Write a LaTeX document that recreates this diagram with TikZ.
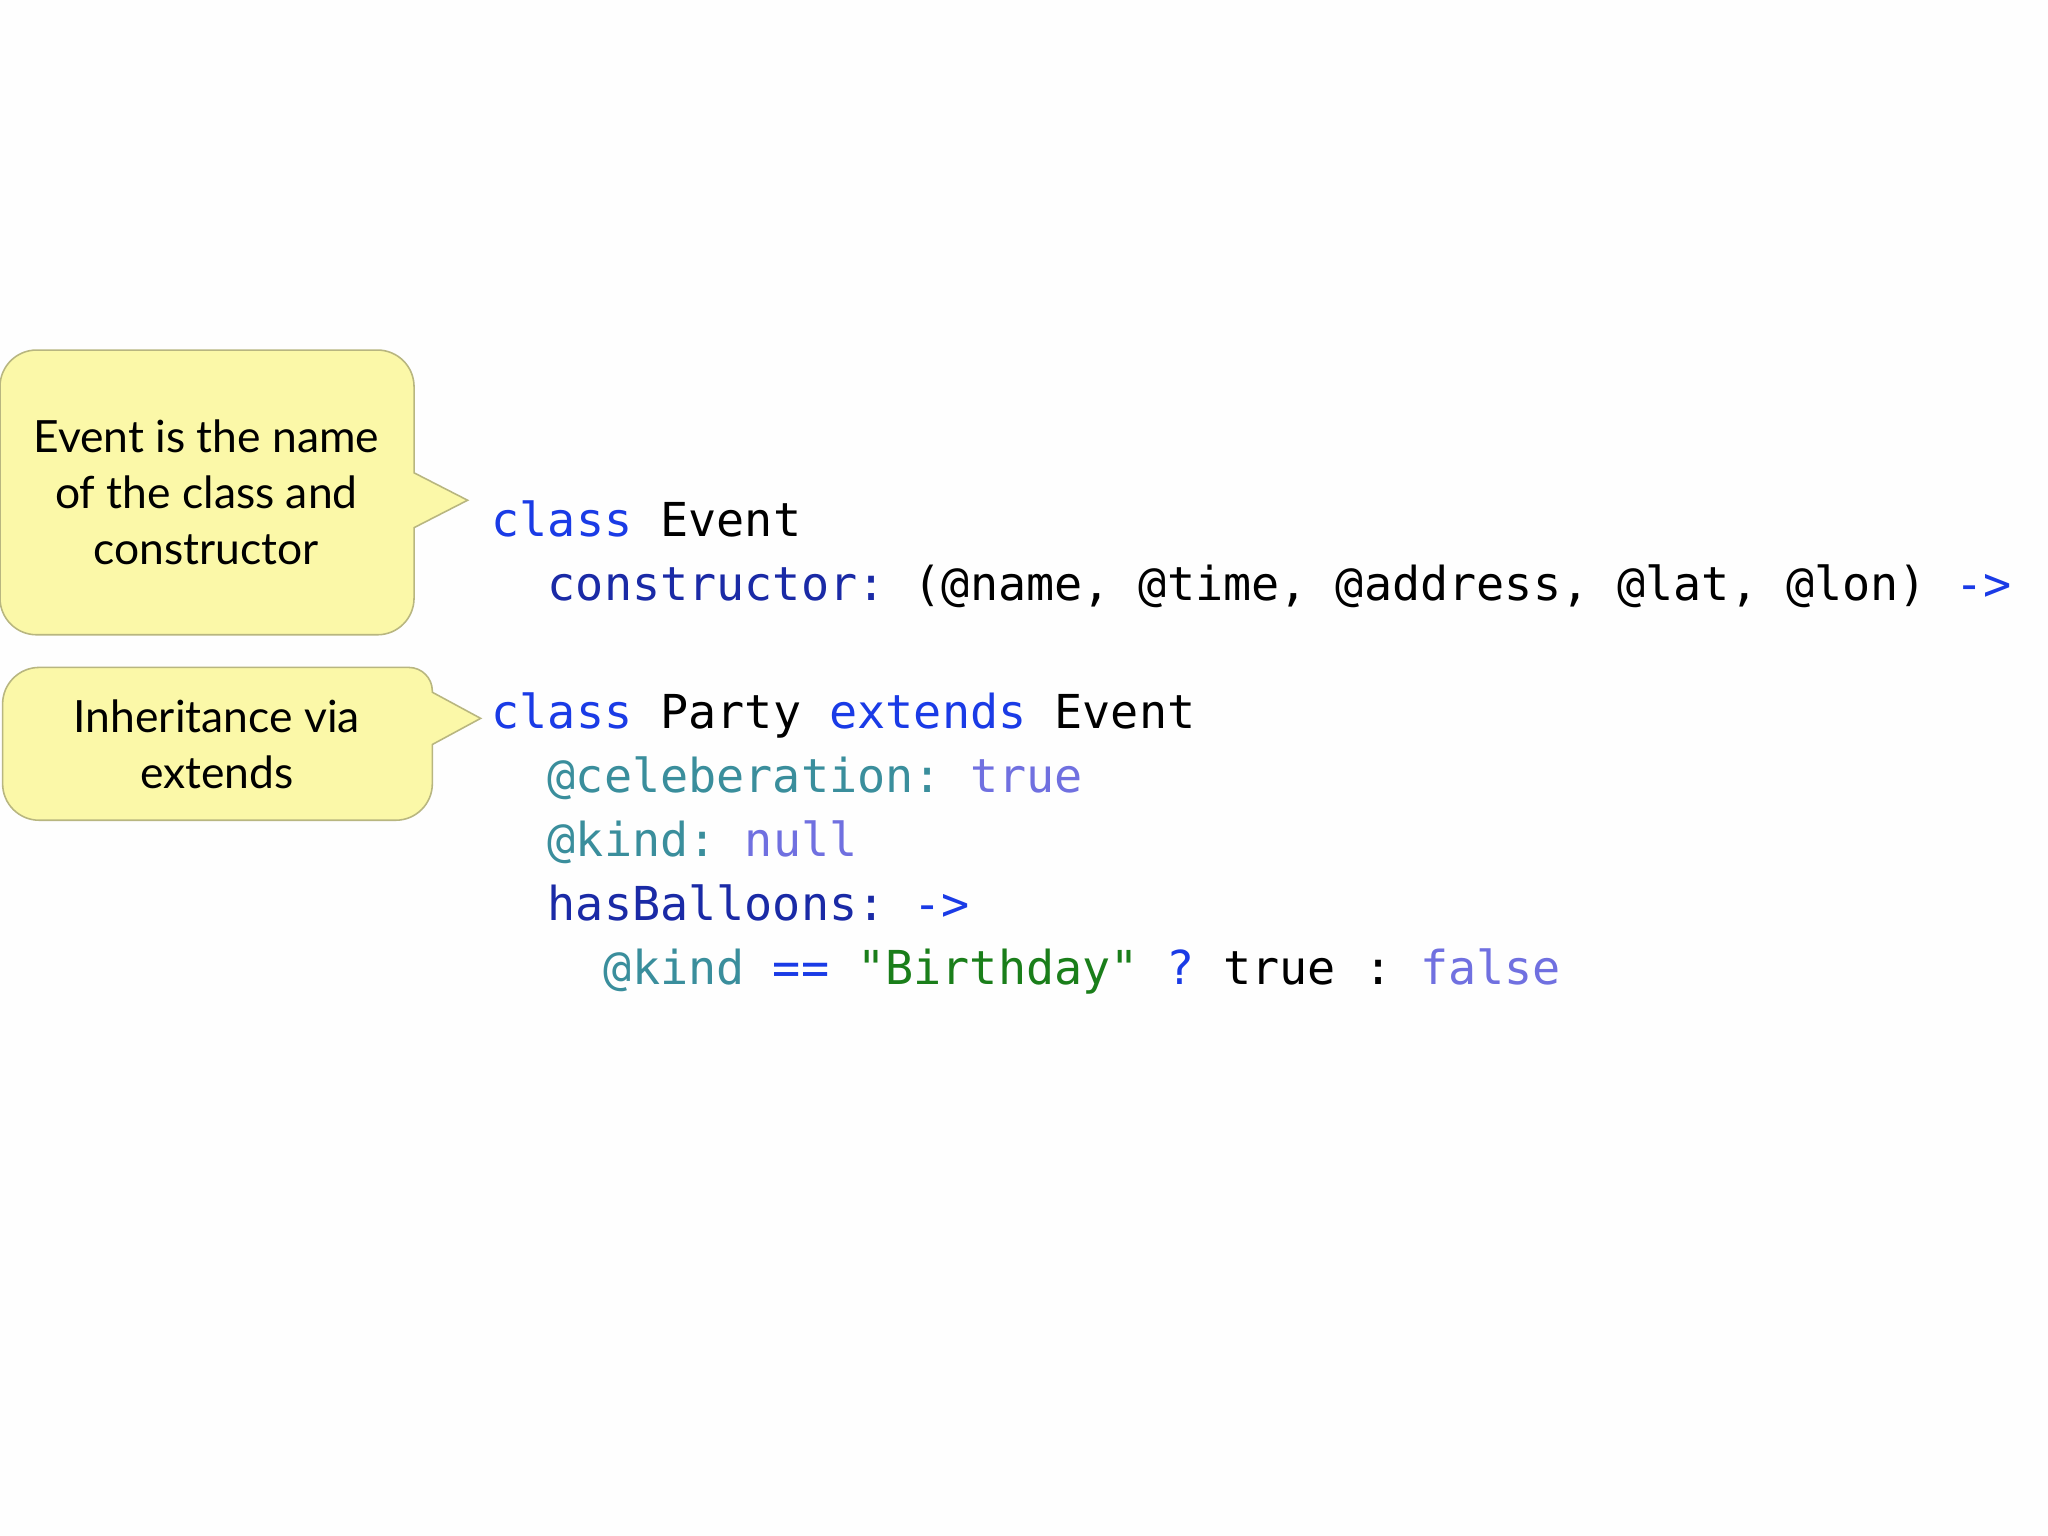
\documentclass[tikz,border=0pt]{standalone}
\usepackage{fontspec}
\setmainfont{Lato}
\setmonofont{DejaVu Sans Mono}
\definecolor{kw}{HTML}{1A3BE6}
\definecolor{fn}{HTML}{1A2AA6}
\definecolor{ivar}{HTML}{3A8E9C}
\definecolor{lit}{HTML}{7070E0}
\definecolor{str}{HTML}{1A7E1A}
\definecolor{cfill}{HTML}{FBF8A8}
\definecolor{cline}{HTML}{B8B680}
\tikzset{x=0.5pt,y=-0.5pt,
 callout/.style={fill=cfill,draw=cline,line width=0.6pt,rounded corners=14pt},
 calltext/.style={align=center,font=\fontsize{17}{21.5}\selectfont},
 code/.style={anchor=base west,inner sep=0pt,font=\ttfamily\fontsize{17.9}{20}\selectfont}}
\begin{document}
\begin{tikzpicture}
\useasboundingbox[fill=white!99!gray] (0,0) rectangle (1568,1176);
% callout 1
\draw[callout] (358,383) [sharp corners]-- (317,362) [rounded corners=14pt]-- (317,268) -- (0,268) -- (0,486) -- (317,486) [sharp corners]-- (317,404) -- cycle;
\node[calltext] (c1) at (158,377) {Event is the name\\of the class and\\constructor};
% callout 2
\draw[callout] (368,550) [sharp corners]-- (331,530) [rounded corners=9pt]-- (331,511) [rounded corners=14pt]-- (2,511) -- (2,628) -- (331,628) [sharp corners]-- (331,570) -- cycle;
\node[calltext] (c2) at (166,570) {Inheritance via\\extends};
% code
\node[code] (l1) at (376,411) {\textcolor{kw}{class} Event};
\node[code] (l2) at (419,460) {\textcolor{fn}{constructor:} (@name, @time, @address, @lat, @lon) \textcolor{kw}{->}};
\node[code] (l3) at (376,558) {\textcolor{kw}{class} Party \textcolor{kw}{extends} Event};
\node[code] (l4) at (419,607) {\textcolor{ivar}{@celeberation:} \textcolor{lit}{true}};
\node[code] (l5) at (419,656) {\textcolor{ivar}{@kind:} \textcolor{lit}{null}};
\node[code] (l6) at (419,705) {\textcolor{fn}{hasBalloons:} \textcolor{kw}{->}};
\node[code] (l7) at (462,754) {\textcolor{ivar}{@kind} \textcolor{kw}{==} \textcolor{str}{"Birthday"} \textcolor{kw}{?} true : \textcolor{lit}{false}};
\end{tikzpicture}
\end{document}
